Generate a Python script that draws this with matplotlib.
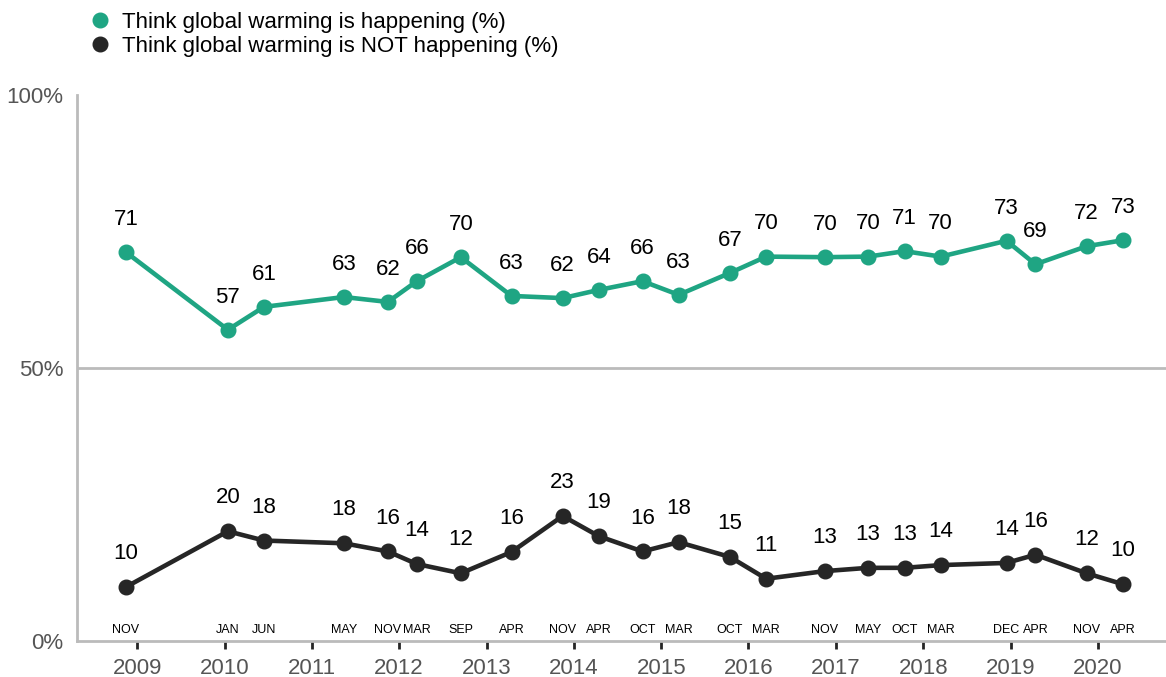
import pandas as pd
import matplotlib
matplotlib.use('Agg')
import matplotlib.pyplot as plt
import matplotlib.dates as mdates
from matplotlib.lines import Line2D

plt.rcParams['font.family'] = ['Liberation Sans', 'DejaVu Sans']

dates = ['2008-11', '2010-01', '2010-06', '2011-05', '2011-11', '2012-03', '2012-09',
         '2013-04', '2013-11', '2014-04', '2014-10', '2015-03', '2015-10', '2016-03',
         '2016-11', '2017-05', '2017-10', '2018-03', '2018-12', '2019-04', '2019-11',
         '2020-04']
months = ['NOV', 'JAN', 'JUN', 'MAY', 'NOV', 'MAR', 'SEP', 'APR', 'NOV', 'APR', 'OCT',
          'MAR', 'OCT', 'MAR', 'NOV', 'MAY', 'OCT', 'MAR', 'DEC', 'APR', 'NOV', 'APR']
happening = [71.2, 57.0, 61.2, 63.0, 62.1, 65.9, 70.3, 63.2, 62.8, 64.3, 65.9,
             63.4, 67.4, 70.4, 70.3, 70.4, 71.4, 70.4, 73.3, 69.0, 72.3, 73.4]
not_happening = [9.9, 20.1, 18.4, 17.9, 16.4, 14.1, 12.4, 16.3, 22.9, 19.2, 16.4,
                 18.1, 15.4, 11.4, 12.8, 13.4, 13.4, 13.9, 14.3, 15.8, 12.4, 10.4]
happening_lbl = [71, 57, 61, 63, 62, 66, 70, 63, 62, 64, 66, 63, 67, 70, 70, 70, 71, 70, 73, 69, 72, 73]
not_lbl = [10, 20, 18, 18, 16, 14, 12, 16, 23, 19, 16, 18, 15, 11, 13, 13, 13, 14, 14, 16, 12, 10]

x = pd.to_datetime([d + '-15' for d in dates])

green = '#1fa583'
black = '#262626'
gray = '#555555'

fig = plt.figure(figsize=(11.66, 6.77), dpi=100)
ax = fig.add_axes([77 / 1166, 1 - 641 / 677, 1 - 77 / 1166, (641 - 95) / 677])

ax.plot(x, happening, color=green, lw=3.3, marker='o', ms=10.5, zorder=3, clip_on=False)
ax.plot(x, not_happening, color=black, lw=3.3, marker='o', ms=10.5, zorder=3, clip_on=False)

for xi, v, l in zip(x, happening, happening_lbl):
    ax.annotate(str(l), (xi, v), xytext=(0, 23.5), textcoords='offset points',
                ha='center', va='center', fontsize=16, color='black')
for xi, v, l in zip(x, not_happening, not_lbl):
    ax.annotate(str(l), (xi, v), xytext=(0, 24), textcoords='offset points',
                ha='center', va='center', fontsize=16, color='black')
for xi, m in zip(x, months):
    ax.text(xi, 2.0, m, ha='center', va='center', fontsize=9, color='black')

ax.set_xlim(pd.Timestamp('2008-04-24'), pd.Timestamp('2020-10-12'))
ax.set_ylim(0, 100)
ax.set_yticks([0, 50, 100])
ax.set_yticklabels(['0%', '50%', '100%'])
ax.axhline(50, color='#bbbbbb', lw=2, zorder=1)

ax.xaxis.set_major_locator(mdates.YearLocator())
ax.xaxis.set_major_formatter(mdates.DateFormatter('%Y'))
ax.tick_params(axis='x', colors=black, length=6, width=2, labelsize=16, labelcolor=gray, pad=6)
ax.tick_params(axis='y', length=0, labelsize=16, labelcolor=gray, pad=10)

for s in ['top', 'right']:
    ax.spines[s].set_visible(False)
for s in ['left', 'bottom']:
    ax.spines[s].set_color('#bbbbbb')
    ax.spines[s].set_linewidth(2)

handles = [Line2D([], [], color=green, marker='o', ls='none', ms=10.5),
           Line2D([], [], color=black, marker='o', ls='none', ms=10.5)]
fig.legend(handles, ['Think global warming is happening (%)',
                     'Think global warming is NOT happening (%)'],
           loc='upper left', bbox_to_anchor=(80 / 1166, 1 - 3 / 677), frameon=False,
           fontsize=16, handlelength=1, handletextpad=0.5, labelspacing=0.15,
           borderaxespad=0)

fig.savefig('out.png', dpi=100)
